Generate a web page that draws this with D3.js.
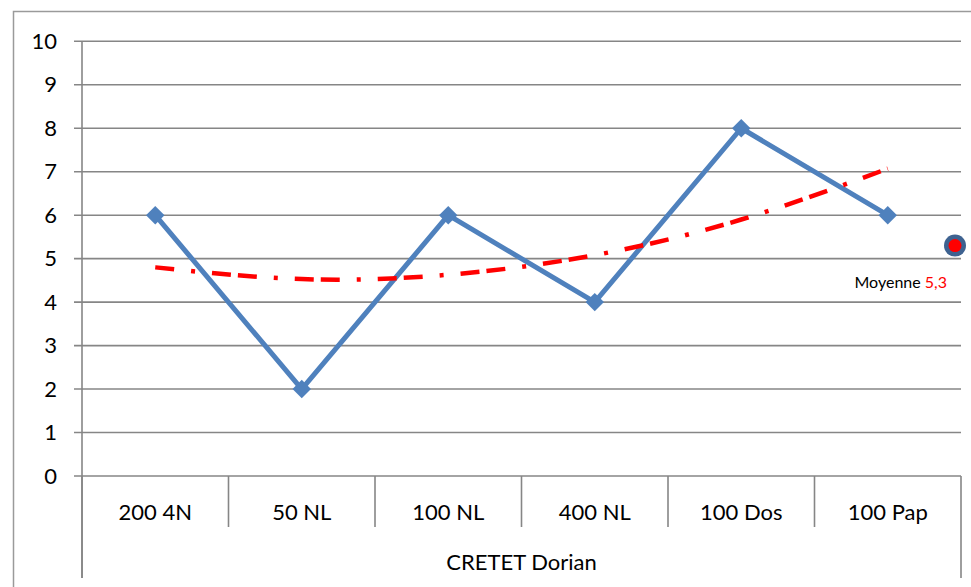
<!DOCTYPE html>
<html lang="fr">
    <head>
        <meta charset="utf-8">
        <title>CRETET Dorian</title>
        <script type="text/javascript" src="https://cdn.jsdelivr.net/npm/d3@7/dist/d3.min.js"></script>
        <style>
            body { margin: 0; background: #fff; }
            text { font-family: Lato, "Open Sans", sans-serif; }
        </style>
    </head>
    <body>
        <script type="text/javascript">
            // data
            var categories = ["200 4N", "50 NL", "100 NL", "400 NL", "100 Dos", "100 Pap"];
            var notes = [6, 2, 6, 4, 8, 6];
            var tendance = [4.8, 4.53, 4.63, 5.08, 5.9, 7.07];
            var yTicks = [0, 1, 2, 3, 4, 5, 6, 7, 8, 9, 10];
            var groupe = "CRETET Dorian";
            var moyenne = 5.3;
            var moyenneTexte = "5,3";

            var w = 971;
            var h = 587;
            var plotLeft = 82, plotRight = 961, plotTop = 41.3, plotBottom = 476;

            var svg = d3.select("body")
                .append("svg")
                .attr("width", w)
                .attr("height", h);

            // outer chart frame
            svg.append("path")
                .attr("d", "M13.5," + h + " V11.5 H" + w)
                .attr("fill", "none")
                .attr("stroke", "#9a9a9a")
                .attr("stroke-width", 1.5);

            var xScale = d3.scaleBand()
                .domain(categories)
                .range([plotLeft, plotRight])
                .padding(0);
            var yScale = d3.scaleLinear()
                .domain([0, 10])
                .range([plotBottom, plotTop]);

            // gridlines
            svg.selectAll(".grid")
                .data(yTicks)
                .enter()
                .append("line")
                .attr("class", "grid")
                .attr("x1", plotLeft - 8)
                .attr("x2", plotRight)
                .attr("y1", function(d) { return yScale(d); })
                .attr("y2", function(d) { return yScale(d); })
                .attr("stroke", "#868686")
                .attr("stroke-width", 1.6);

            // y axis
            var yAxis = d3.axisLeft(yScale)
                .tickValues(yTicks)
                .tickSize(0)
                .tickPadding(25);
            var gy = svg.append("g")
                .attr("transform", "translate(" + plotLeft + ",0)")
                .call(yAxis);
            gy.select(".domain").remove();
            gy.selectAll("text")
                .attr("font-size", "22px")
                .attr("font-family", "Lato")
                .attr("fill", "#000");
            svg.append("line")
                .attr("x1", plotLeft).attr("x2", plotLeft)
                .attr("y1", plotTop).attr("y2", 578)
                .attr("stroke", "#868686")
                .attr("stroke-width", 1.6);

            // category dividers
            var bounds = categories.map(function(c) { return xScale(c); }).concat([plotRight]);
            svg.selectAll(".div")
                .data(bounds)
                .enter()
                .append("line")
                .attr("class", "div")
                .attr("x1", function(d) { return d; })
                .attr("x2", function(d) { return d; })
                .attr("y1", plotBottom)
                .attr("y2", function(d, i) { return (i === 0 || i === bounds.length - 1) ? 578 : 527; })
                .attr("stroke", "#868686")
                .attr("stroke-width", 1.6);

            svg.selectAll(".cat")
                .data(categories)
                .enter()
                .append("text")
                .attr("class", "cat")
                .attr("x", function(d) { return xScale(d) + xScale.bandwidth() / 2; })
                .attr("y", 520)
                .attr("text-anchor", "middle")
                .attr("font-size", "22px")
                .attr("fill", "#000")
                .text(function(d) { return d; });

            svg.append("text")
                .attr("x", (plotLeft + plotRight) / 2)
                .attr("y", 570)
                .attr("text-anchor", "middle")
                .attr("font-size", "22px")
                .attr("fill", "#000")
                .text(groupe);

            var cx = function(d, i) { return xScale(categories[i]) + xScale.bandwidth() / 2; };

            // data line
            var line = d3.line()
                .x(cx)
                .y(function(d) { return yScale(d); });
            svg.append("path")
                .datum(notes)
                .attr("d", line)
                .attr("fill", "none")
                .attr("stroke", "#4f81bd")
                .attr("stroke-width", 5)
                .attr("stroke-linejoin", "round");

            // trend line
            var trend = d3.line()
                .x(cx)
                .y(function(d) { return yScale(d); })
                .curve(d3.curveNatural);
            svg.append("path")
                .datum(tendance)
                .attr("d", trend)
                .attr("fill", "none")
                .attr("stroke", "#ff0000")
                .attr("stroke-width", 4.5)
                .attr("stroke-dasharray", "19,7,19,17,4,17")
                .attr("stroke-dashoffset", 26);

            // diamond markers
            svg.selectAll(".pt")
                .data(notes)
                .enter()
                .append("path")
                .attr("class", "pt")
                .attr("d", d3.symbol().type(d3.symbolSquare).size(170))
                .attr("transform", function(d, i) {
                    return "translate(" + cx(d, i) + "," + yScale(d) + ") rotate(45)";
                })
                .attr("fill", "#4f81bd");

            // moyenne marker
            var mx = plotRight - 6;
            svg.append("circle")
                .attr("cx", mx)
                .attr("cy", yScale(moyenne))
                .attr("r", 11)
                .attr("fill", "#3e6290");
            svg.append("circle")
                .attr("cx", mx)
                .attr("cy", yScale(moyenne))
                .attr("r", 6.5)
                .attr("fill", "#ff0000");

            var lab = svg.append("text")
                .attr("x", 947)
                .attr("y", 288)
                .attr("text-anchor", "end")
                .attr("font-size", "16px")
                .attr("fill", "#000");
            lab.append("tspan").text("Moyenne ");
            lab.append("tspan").attr("fill", "#ff0000").text(moyenneTexte);
        </script>
    </body>
</html>
